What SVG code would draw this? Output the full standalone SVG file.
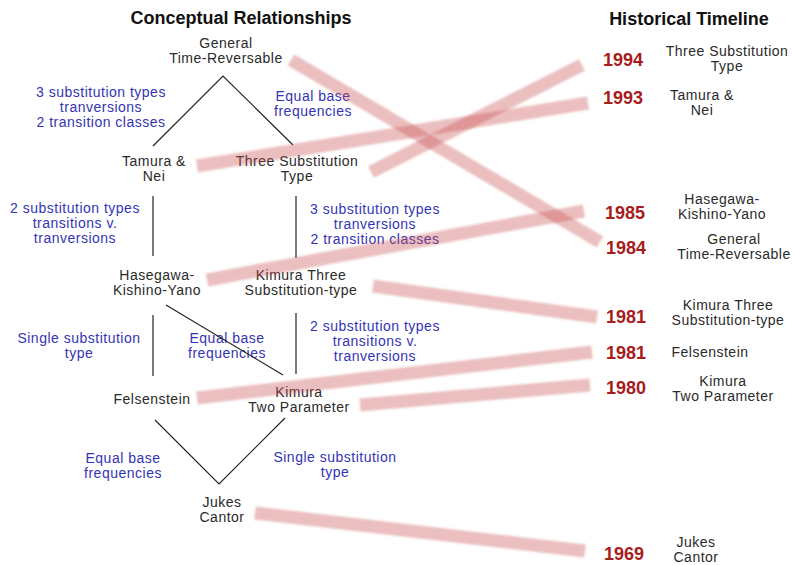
<svg xmlns="http://www.w3.org/2000/svg" width="793" height="565" viewBox="0 0 793 565">
<style>
.title{font-family:"Liberation Sans",Arial,sans-serif;font-size:18px;font-weight:bold;fill:#111;text-anchor:middle}
.node{font-family:"Liberation Sans",Arial,sans-serif;font-size:14px;letter-spacing:0.5px;fill:#2a2a2a;text-anchor:middle}
.lbl{font-family:"Liberation Sans",Arial,sans-serif;font-size:14px;letter-spacing:0.5px;fill:#3434b4;text-anchor:middle}
.year{font-family:"Liberation Sans",Arial,sans-serif;font-size:18px;font-weight:bold;fill:#a81c1c;text-anchor:middle}
.edge{stroke:#222;stroke-width:1.2;fill:none}
.band{stroke:#c85050;stroke-opacity:0.36;stroke-width:13;fill:none;filter:url(#soft)}
</style>
<defs>
<filter id="soft" x="-10%" y="-50%" width="120%" height="200%"><feGaussianBlur stdDeviation="0.8"/></filter>
</defs>
<rect width="793" height="565" fill="#fff"/>
<text class="title" x="241" y="24">Conceptual Relationships</text>
<text class="title" x="689" y="25">Historical Timeline</text>

<g id="node-gtr"><text class="node" x="226" y="48">General</text><text class="node" x="226" y="63">Time-Reversable</text></g>
<g id="node-tn"><text class="node" x="154" y="166">Tamura &amp;</text><text class="node" x="154" y="181">Nei</text></g>
<g id="node-tst"><text class="node" x="297" y="166">Three Substitution</text><text class="node" x="297" y="181">Type</text></g>
<g id="node-hky"><text class="node" x="157" y="280">Hasegawa-</text><text class="node" x="157" y="295">Kishino-Yano</text></g>
<g id="node-k3"><text class="node" x="301" y="280">Kimura Three</text><text class="node" x="301" y="295">Substitution-type</text></g>
<g id="node-fel"><text class="node" x="152" y="404">Felsenstein</text></g>
<g id="node-k2p"><text class="node" x="299" y="397">Kimura</text><text class="node" x="299" y="412">Two Parameter</text></g>
<g id="node-jc"><text class="node" x="222" y="507">Jukes</text><text class="node" x="222" y="522">Cantor</text></g>

<g id="labels">
<text class="lbl" x="101" y="97">3 substitution types</text>
<text class="lbl" x="101" y="112">tranversions</text>
<text class="lbl" x="101" y="127">2 transition classes</text>
<text class="lbl" x="313" y="101">Equal base</text>
<text class="lbl" x="313" y="116">frequencies</text>
<text class="lbl" x="75" y="213">2 substitution types</text>
<text class="lbl" x="75" y="228">transitions v.</text>
<text class="lbl" x="75" y="243">tranversions</text>
<text class="lbl" x="375" y="214">3 substitution types</text>
<text class="lbl" x="375" y="229">tranversions</text>
<text class="lbl" x="375" y="244">2 transition classes</text>
<text class="lbl" x="79" y="343">Single substitution</text>
<text class="lbl" x="79" y="358">type</text>
<text class="lbl" x="227" y="343">Equal base</text>
<text class="lbl" x="227" y="358">frequencies</text>
<text class="lbl" x="375" y="331">2 substitution types</text>
<text class="lbl" x="375" y="346">transitions v.</text>
<text class="lbl" x="375" y="361">tranversions</text>
<text class="lbl" x="123" y="463">Equal base</text>
<text class="lbl" x="123" y="478">frequencies</text>
<text class="lbl" x="335" y="462">Single substitution</text>
<text class="lbl" x="335" y="477">type</text>
</g>

<g id="timeline">
<text class="year" x="623" y="66">1994</text>
<text class="node" x="727" y="56">Three Substitution</text><text class="node" x="727" y="71">Type</text>
<text class="year" x="623" y="104">1993</text>
<text class="node" x="702" y="100">Tamura &amp;</text><text class="node" x="702" y="115">Nei</text>
<text class="year" x="625" y="219">1985</text>
<text class="node" x="722" y="204">Hasegawa-</text><text class="node" x="722" y="219">Kishino-Yano</text>
<text class="year" x="626" y="254">1984</text>
<text class="node" x="734" y="244">General</text><text class="node" x="734" y="259">Time-Reversable</text>
<text class="year" x="626" y="323">1981</text>
<text class="node" x="728" y="310">Kimura Three</text><text class="node" x="728" y="325">Substitution-type</text>
<text class="year" x="626" y="359">1981</text>
<text class="node" x="710" y="357">Felsenstein</text>
<text class="year" x="626" y="394">1980</text>
<text class="node" x="723" y="386">Kimura</text><text class="node" x="723" y="401">Two Parameter</text>
<text class="year" x="624" y="560">1969</text>
<text class="node" x="696" y="547">Jukes</text><text class="node" x="696" y="562">Cantor</text>
</g>

<g id="connectors">
<polyline class="edge" points="153,146 223,76 293,145"/>
<line class="edge" x1="153" y1="196" x2="153" y2="256"/>
<line class="edge" x1="296" y1="196" x2="296" y2="258"/>
<line class="edge" x1="153" y1="315" x2="153" y2="376"/>
<line class="edge" x1="296" y1="313" x2="296" y2="374"/>
<line class="edge" x1="166" y1="305" x2="283" y2="375"/>
<polyline class="edge" points="155,420 219,484 285,418"/>
</g>

<g id="timeline-links">
<line class="band" x1="291" y1="60" x2="600" y2="242"/>
<line class="band" x1="371" y1="172" x2="582" y2="65"/>
<line class="band" x1="197" y1="166" x2="588" y2="103"/>
<line class="band" x1="207" y1="280" x2="584" y2="211"/>
<line class="band" x1="373" y1="286" x2="597" y2="317"/>
<line class="band" x1="197" y1="398" x2="592" y2="352"/>
<line class="band" x1="360" y1="405" x2="590" y2="385"/>
<line class="band" x1="255" y1="513" x2="585" y2="551"/>
</g>
</svg>
